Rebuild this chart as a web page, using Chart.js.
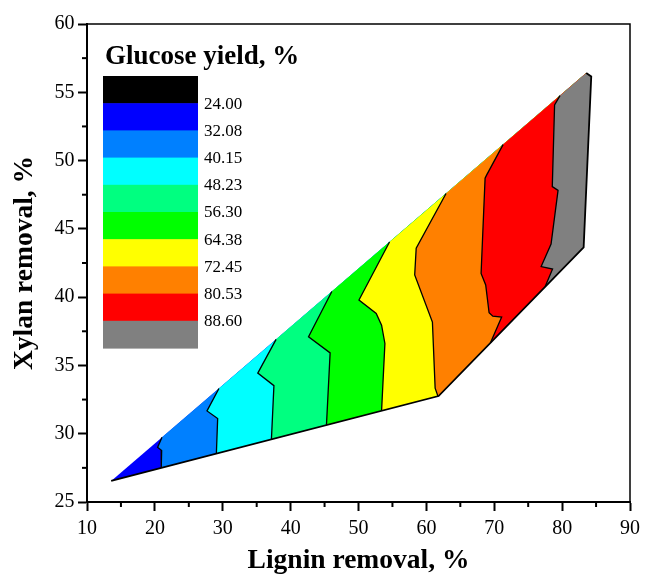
<!DOCTYPE html>
<html><head><meta charset="utf-8">
<script src="https://cdn.jsdelivr.net/npm/chart.js@4.4.1/dist/chart.umd.min.js"></script>
<style>html,body{margin:0;padding:0;background:#fff;} #wrap{width:646px;height:577px;}</style>
</head><body>
<div id="wrap"><canvas id="c" width="646" height="577"></canvas></div>
<script>
// ---- data (Lignin removal %, Xylan removal %) ----
const xRange = [10, 90];
const yRange = [25, 60];
const xMinor = [15, 25, 35, 45, 55, 65, 75, 85];
const yMinor = [27.5, 32.5, 37.5, 42.5, 47.5, 52.5, 57.5];

// outer boundary of the experimental domain (lower/right side, from left tip to top vertex)
const boundary = [[13.56, 26.54], [61.8, 32.76], [83.17, 43.65], [84.29, 56.16], [83.55, 56.41]];

// contour lines (top edge -> bottom edge)
const c32 = [[21.05, 29.74], [20.4, 29.0], [21.0, 28.77], [20.94, 27.49]];
const c40 = [[29.44, 33.31], [27.68, 31.67], [29.25, 31.11], [29.06, 28.54]];
const c48 = [[37.86, 36.91], [35.16, 34.44], [37.54, 33.52], [37.17, 29.58]];
const c56 = [[46.07, 40.41], [42.64, 37.1], [45.82, 35.92], [45.28, 30.63]];
const c64 = [[54.57, 44.04], [50.07, 39.79], [52.61, 38.81], [53.4, 37.95], [53.89, 36.61], [53.4, 31.68]];
const c72 = [[62.9, 47.59], [58.5, 43.58], [58.28, 41.62], [60.89, 38.17], [61.29, 33.34], [61.7, 32.75]];
const c80 = [[71.3, 51.17], [68.89, 48.95], [68.65, 48.71], [68.06, 41.74], [68.74, 40.89], [69.24, 38.86], [69.79, 38.61], [71.09, 38.54], [69.43, 36.65]];
const c88 = [[79.69, 54.75], [78.89, 54.08], [78.55, 48.09], [79.4, 47.82], [78.37, 43.89], [76.91, 42.24], [78.59, 42.06], [77.49, 40.76]];
const contours = [c32, c40, c48, c56, c64, c72, c80, c88];

const legendTitle = 'Glucose yield, %';
const legendColors = ['#000000', '#0000FF', '#0080FF', '#00FFFF', '#00FF80', '#00FF00', '#FFFF00', '#FF8000', '#FF0000', '#808080'];
const legendLevels = ['24.00', '32.08', '40.15', '48.23', '56.30', '64.38', '72.45', '80.53', '88.60'];
const regionColors = legendColors.slice(1);

// ---- build datasets ----
const toXY = arr => arr.map(p => ({x: p[0], y: p[1]}));
const datasets = [];
// region 0 : whole domain
datasets.push({data: toXY(boundary), backgroundColor: regionColors[0], borderColor: 'rgba(0,0,0,0)', borderWidth: 0, fill: 'shape', order: 100});
contours.forEach((c, k) => {
  const bottom = c[c.length - 1];
  const poly = c.concat(boundary.filter(v => v[0] > bottom[0]));
  datasets.push({data: toXY(poly), backgroundColor: regionColors[k + 1], borderColor: 'rgba(0,0,0,0)', borderWidth: 0, fill: 'shape', order: 99 - k});
});
contours.forEach(c => {
  datasets.push({data: toXY(c), borderColor: '#000', borderWidth: 1.3, fill: false, order: 1});
});
datasets.push({data: toXY(boundary), borderColor: '#000', borderWidth: 1.8, fill: false, order: 0});
datasets.forEach(d => { d.showLine = true; d.pointRadius = 0; d.pointHoverRadius = 0; d.tension = 0; });

const FONT = "'Liberation Serif', 'Times New Roman', serif";
Chart.defaults.font.family = FONT;
Chart.defaults.color = '#000';

const decor = {
  id: 'decor',
  afterDraw(chart) {
    const {ctx, chartArea: a, scales: {x, y}} = chart;
    ctx.save();
    ctx.strokeStyle = '#000';
    ctx.lineWidth = 1.5;
    ctx.beginPath();
    ctx.moveTo(a.left, a.top); ctx.lineTo(a.right, a.top); ctx.lineTo(a.right, a.bottom);
    ctx.stroke();
    ctx.lineWidth = 2;
    xMinor.forEach(v => { const px = x.getPixelForValue(v); ctx.beginPath(); ctx.moveTo(px, a.bottom); ctx.lineTo(px, a.bottom + 5); ctx.stroke(); });
    yMinor.forEach(v => { const py = y.getPixelForValue(v); ctx.beginPath(); ctx.moveTo(a.left, py); ctx.lineTo(a.left - 5, py); ctx.stroke(); });
    // legend
    const lx = a.left + 16, lw = 95, ly0 = a.top + 52, bh = 27.2;
    ctx.fillStyle = '#000';
    ctx.font = 'bold 27px ' + FONT;
    ctx.textBaseline = 'alphabetic';
    ctx.textAlign = 'left';
    ctx.fillText(legendTitle, a.left + 18, a.top + 40);
    legendColors.forEach((c, i) => { ctx.fillStyle = c; ctx.fillRect(lx, ly0 + i * bh, lw, bh + 0.6); });
    ctx.fillStyle = '#000';
    ctx.font = '17px ' + FONT;
    ctx.textBaseline = 'middle';
    legendLevels.forEach((t, i) => ctx.fillText(t, lx + lw + 6, ly0 + (i + 1) * bh + 1));
    ctx.restore();
  }
};

new Chart(document.getElementById('c'), {
  type: 'scatter',
  data: {datasets},
  plugins: [decor],
  options: {
    responsive: false,
    animation: false,
    events: [],
    layout: {padding: {top: 24, right: 14, left: 0, bottom: 0}},
    plugins: {legend: {display: false}, tooltip: {enabled: false}},
    scales: {
      x: {
        type: 'linear', position: 'bottom', min: xRange[0], max: xRange[1],
        afterFit: s => { s.height = 75; },
        ticks: {stepSize: 10, font: {size: 20}, color: '#000', padding: 6, maxRotation: 0, autoSkip: false},
        grid: {drawOnChartArea: false, drawTicks: true, tickLength: 9, tickWidth: 2, tickColor: '#000'},
        border: {display: true, width: 2, color: '#000'},
        title: {display: true, text: 'Lignin removal, %', font: {size: 27.5, weight: 'bold'}, color: '#000', padding: {top: 0, bottom: 0}}
      },
      y: {
        type: 'linear', position: 'left', min: yRange[0], max: yRange[1],
        afterFit: s => { s.width = 87; },
        ticks: {stepSize: 5, font: {size: 20}, color: '#000', padding: 3.5},
        grid: {drawOnChartArea: false, drawTicks: true, tickLength: 9, tickWidth: 2, tickColor: '#000'},
        border: {display: true, width: 2, color: '#000'},
        title: {display: true, text: 'Xylan removal, %', font: {size: 27.5, weight: 'bold'}, color: '#000', padding: {top: 8, bottom: 0}}
      }
    }
  }
});
</script>
</body></html>
